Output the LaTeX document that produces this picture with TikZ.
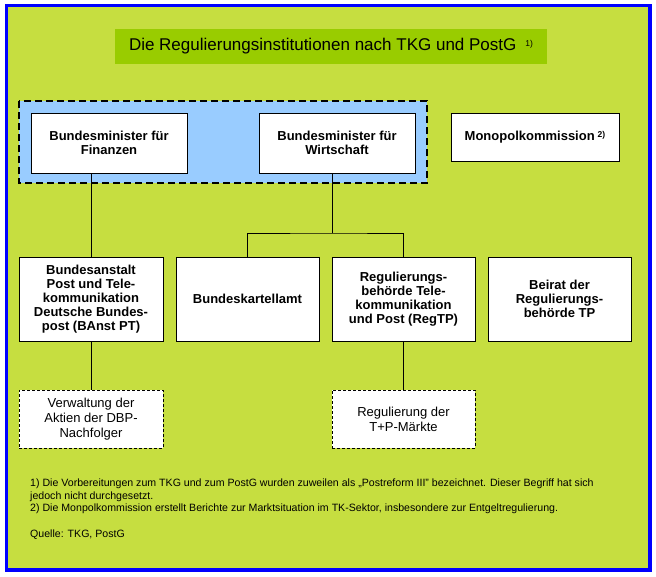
\documentclass[tikz,border=0pt]{standalone}
\usepackage{fontspec}
\setmainfont{Liberation Sans}
\usepackage{xcolor}
\usetikzlibrary{positioning}

\definecolor{bggreen}{RGB}{198,222,64}
\definecolor{titlegreen}{RGB}{153,204,0}
\definecolor{groupblue}{RGB}{153,204,255}
\definecolor{framblue}{RGB}{0,0,255}

\begin{document}
\begin{tikzpicture}[
  x=1pt, y=-1pt,
  inst/.style={rectangle, draw=black, fill=white, line width=1pt, align=center,
               inner sep=0pt, font=\fontsize{13}{14}\selectfont\bfseries},
  task/.style={rectangle, draw=black, fill=white, line width=1pt, dashed,
               dash pattern=on 3pt off 2pt, align=center, inner sep=0pt,
               font=\fontsize{13}{15}\selectfont},
  note/.style={anchor=west, inner sep=0pt, font=\fontsize{10.6}{12}\selectfont},
  conn/.style={line width=1pt, black},
]
\useasboundingbox (0,0) rectangle (656,576);

% --- frame and title ---
\fill[bggreen] (6,5) rectangle (650,570);
\draw[framblue, line width=3.5pt] (6.5,5.5) rectangle (650,570);
\node[fill=titlegreen, minimum width=432pt, minimum height=35pt, inner sep=0pt,
      font=\fontsize{17}{18}\selectfont] (title) at (331,46.5)
  {Die Regulierungsinstitutionen nach TKG und PostG\hspace{9pt}\raisebox{4pt}{\fontsize{8.5}{9}\selectfont 1)}};

% --- ministries ---
\fill[groupblue] (19,101) rectangle (427,183);
\draw[line width=2.5pt, dash pattern=on 7pt off 4pt] (19,101) rectangle (427,183);
\node[inst, minimum width=156pt, minimum height=60pt] (fin)  at (109,143) {Bundesminister für\\Finanzen};
\node[inst, minimum width=156pt, minimum height=60pt] (wirt) at (337,143) {Bundesminister für\\Wirtschaft};
\node[inst, minimum width=168pt, minimum height=48pt] (mono) at (535,137)
  {Monopolkommission\hspace{3pt}\raisebox{2.5pt}{\fontsize{8.5}{9}\selectfont 2)}};

% --- authorities ---
\node[inst, minimum width=144pt, minimum height=84pt] (banst) at (91,299)
  {Bundesanstalt\\Post und Tele-\\kommunikation\\Deutsche Bundes-\\post (BAnst PT)};
\node[inst, minimum width=143pt, minimum height=84pt] (bka)   at (247.5,299) {Bundeskartellamt};
\node[inst, minimum width=143pt, minimum height=84pt] (regtp) at (403.5,299)
  {Regulierungs-\\behörde Tele-\\kommunikation\\und Post (RegTP)};
\node[inst, minimum width=143pt, minimum height=84pt] (beirat) at (559.5,299)
  {Beirat der\\Regulierungs-\\behörde TP};

% --- tasks ---
\node[task, minimum width=144pt, minimum height=58pt] (aktien) at (91,419)
  {Verwaltung der\\Aktien der DBP-\\Nachfolger};
\node[task, minimum width=143pt, minimum height=58pt] (markt) at (403.5,419)
  {Regulierung der\\T+P-Märkte};

% --- connectors ---
\coordinate (bus) at (332,233);
\draw[conn] (banst.north) -- (banst.north |- fin.south);
\draw[conn] (bus |- wirt.south) -- (bus);
\draw[conn] (bka.north) |- (bus) -| (regtp.north);
\draw[conn] (banst.south) -- (aktien.north);
\draw[conn] (regtp.south) -- (markt.north);

% --- notes ---
\node[note] (fn1) at (30,484) {1) Die Vorbereitungen zum TKG und zum PostG wurden zuweilen als „Postreform III" bezeichnet. Dieser Begriff hat sich};
\node[note] (fn1b) at (30,496.5) {jedoch nicht durchgesetzt.};
\node[note] (fn2) at (30,509) {2) Die Monpolkommission erstellt Berichte zur Marktsituation im TK-Sektor, insbesondere zur Entgeltregulierung.};
\node[note] (src) at (30,535) {Quelle: TKG, PostG};
\end{tikzpicture}
\end{document}
